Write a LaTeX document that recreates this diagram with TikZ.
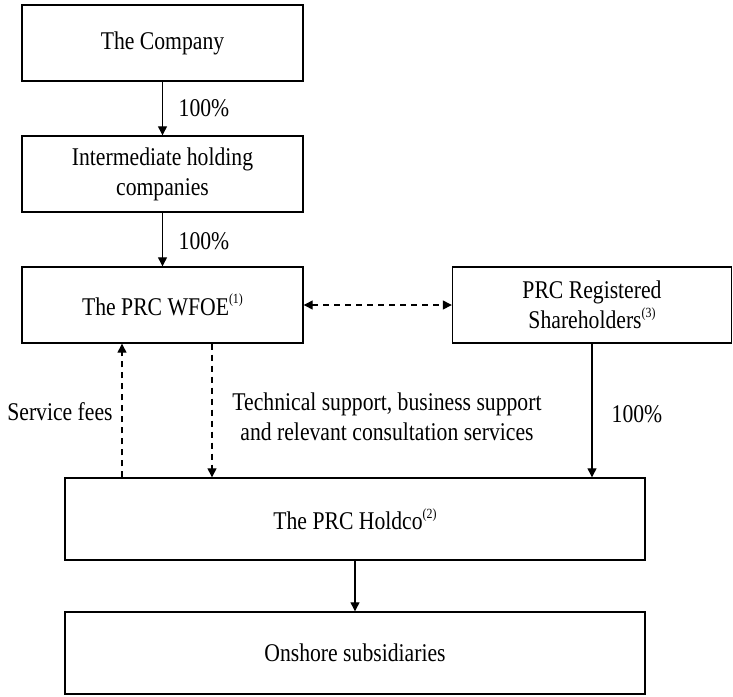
\documentclass[tikz,border=0pt]{standalone}
\usepackage{fontspec}
\setmainfont[FakeStretch=0.85]{Liberation Serif}
\usetikzlibrary{arrows.meta}
% small raised note number after an entity name
\newcommand\notemark[1]{\raisebox{0.45em}{\fontsize{14}{14}\selectfont(#1)}}
\begin{document}
\begin{tikzpicture}[x=1pt,y=-1pt,
  entity/.style={draw, line width=1.4pt, rectangle, minimum width=281pt,
    minimum height=76pt, align=center, inner sep=0pt,
    font=\fontsize{25.5}{30}\selectfont},
  widebox/.style={entity, minimum width=580pt, minimum height=82pt},
  lbl/.style={inner sep=0pt, align=center, font=\fontsize{25.5}{30}\selectfont},
  tip/.style={-{Triangle[length=9pt,width=9pt]}},
  own/.style={line width=1.2pt, tip},
  flow/.style={line width=1.3pt, dash pattern=on 6pt off 5pt, tip}]
\useasboundingbox (0,0) rectangle (733,696);

% entities
\node[entity] (company) at (162.5,43) {The Company};
\node[entity] (inter) at (162.5,174) {Intermediate holding\\companies};
\node[entity] (wfoe) at (162.5,305) {The PRC WFOE\notemark{1}};
\node[entity, minimum width=279pt] (share) at (592,305) {PRC Registered\\Shareholders\notemark{3}};
\node[widebox] (holdco) at (355,519) {The PRC Holdco\notemark{2}};
\node[widebox] (onshore) at (355,653) {Onshore subsidiaries};

% x positions of the two contractual flows
\coordinate (feesx) at (122,0);
\coordinate (techx) at (212,0);

% ownership
\draw[own] (company) -- (inter);
\draw[own] (inter) -- (wfoe);
\draw[own] (share.south) -- (holdco.north -| share.south);
\draw[own] (holdco) -- (onshore);

% contractual arrangements
\draw[flow, {Triangle[length=9pt,width=9pt]}-{Triangle[length=9pt,width=9pt]}] (wfoe.east) -- (share.west);
\draw[flow] (holdco.north -| feesx) -- (wfoe.south -| feesx);
\draw[flow] (wfoe.south -| techx) -- (holdco.north -| techx);

% labels
\node[lbl] (p1) at (204,108) {100\%};
\node[lbl] (p2) at (204,241) {100\%};
\node[lbl] (p3) at (637,414) {100\%};
\node[lbl] (fees) at (60,412) {Service fees};
\node[lbl] (tech) at (387,417) {Technical support, business support\\and relevant consultation services};
\end{tikzpicture}
\end{document}
